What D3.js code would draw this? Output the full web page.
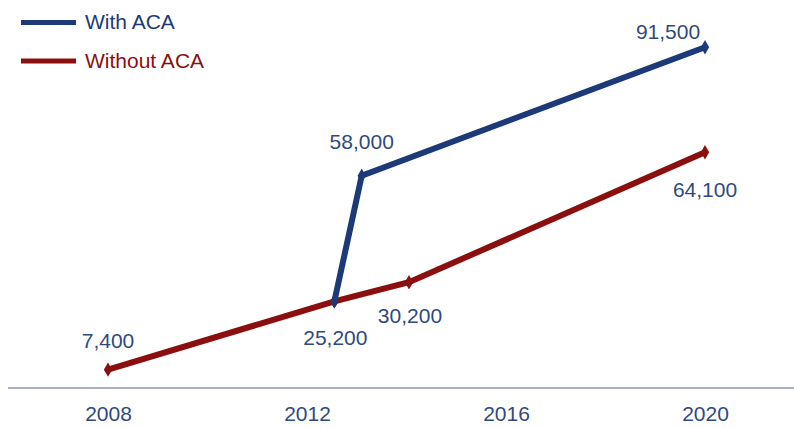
<!DOCTYPE html>
<html>
<head>
<meta charset="utf-8">
<script src="https://cdn.jsdelivr.net/npm/d3@7"></script>
<style>
  body { margin: 0; background: #fff; }
  svg { display: block; font-family: "Liberation Sans", Arial, sans-serif; }
</style>
</head>
<body>
<svg id="chart" width="794" height="427"></svg>
<script>
// ACA chart - with vs without
const years = [2008, 2012, 2016, 2020];
const withYears = [2012.55, 2013.1, 2020];
const withValues = [25200, 58000, 91500];
const withoutYears = [2008, 2012.55, 2014.05, 2020];
const withoutValues = [7400, 25200, 30200, 64100];
const seriesNames = ["With ACA", "Without ACA"];

const blue = "#1c3a78", red = "#8c0f0f", txt = "#2f4a7e";

const svg = d3.select("#chart");
const x = d3.scaleLinear().domain([2008, 2020]).range([108, 705]);
const y = d3.scaleLinear().domain([0, 100000]).range([398, 14.6]);

// axis line
svg.append("line")
    .attr("x1", 8).attr("x2", 794)
    .attr("y1", 388).attr("y2", 388)
    .attr("stroke", "#8d94b0").attr("stroke-width", 1.5);

// tick labels
const xAxis = svg.append("g").attr("transform", "translate(0,388)")
    .call(d3.axisBottom(x).tickValues(years).tickFormat(d3.format("d")).tickSize(0).tickPadding(18));
xAxis.select(".domain").remove();
xAxis.selectAll("text")
    .attr("fill", txt).style("font-size", "21px")
    .style("font-family", "'Liberation Sans', Arial, sans-serif");

const withData = withYears.map((d, i) => ({ year: d, value: withValues[i] }));
const withoutData = withoutYears.map((d, i) => ({ year: d, value: withoutValues[i] }));

const line = d3.line().x(d => x(d.year)).y(d => y(d.value));

function drawSeries(data, color) {
    svg.append("path").datum(data)
        .attr("d", line)
        .attr("fill", "none")
        .attr("stroke", color)
        .attr("stroke-width", 6);
    svg.selectAll(null).data(data).enter()
        .append("path")
        .attr("d", d3.symbol(d3.symbolDiamond, 60))
        .attr("transform", d => `translate(${x(d.year)},${y(d.value)})`)
        .attr("fill", color);
}

drawSeries(withoutData, red);
drawSeries(withData, blue);

// value labels (offsets in px relative to point)
const fmt = d3.format(",");
const labels = [
    { d: withoutData[0], dx: 0, dy: -22 },
    { d: withoutData[1], dx: 1, dy: 44 },
    { d: withoutData[2], dx: 1, dy: 41 },
    { d: withoutData[3], dx: 0, dy: 45 },
    { d: withData[1], dx: 0, dy: -27 },
    { d: withData[2], dx: -37, dy: -8 }
];
svg.selectAll(null).data(labels).enter()
    .append("text")
    .attr("x", l => x(l.d.year) + l.dx)
    .attr("y", l => y(l.d.value) + l.dy)
    .attr("text-anchor", "middle")
    .attr("fill", txt)
    .style("font-size", "21px")
    .text(l => fmt(l.d.value));

// legend
const legend = svg.append("g");
[blue, red].forEach((c, i) => {
    const ly = 22.5 + i * 38.5;
    legend.append("line")
        .attr("x1", 21).attr("x2", 76)
        .attr("y1", ly).attr("y2", ly)
        .attr("stroke", c).attr("stroke-width", 5);
    legend.append("text")
        .attr("x", 85).attr("y", ly + 6.5)
        .attr("fill", c)
        .style("font-size", "21px")
        .text(seriesNames[i]);
});
</script>
</body>
</html>
